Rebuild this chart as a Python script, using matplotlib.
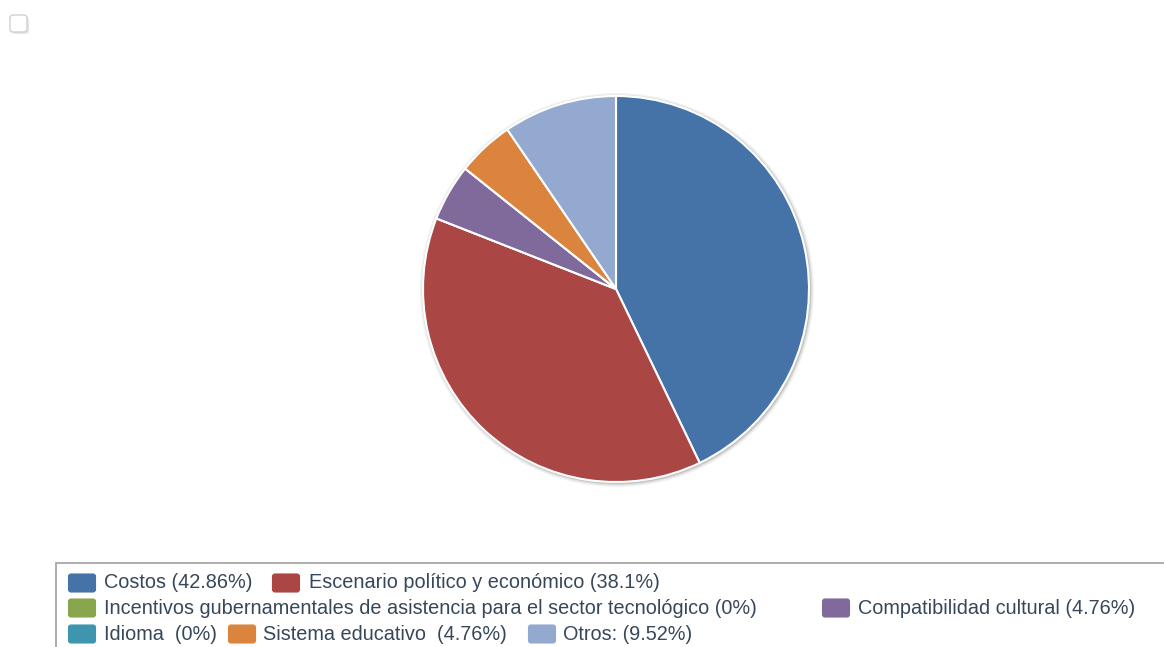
import matplotlib.pyplot as plt
from matplotlib.patches import Rectangle, FancyBboxPatch, Circle

# data
labels = ['Costos', 'Escenario político y económico',
          'Incentivos gubernamentales de asistencia para el sector tecnológico',
          'Compatibilidad cultural', 'Idioma ', 'Sistema educativo ', 'Otros:']
values = [42.86, 38.1, 0, 4.76, 0, 4.76, 9.52]
pct_text = ['42.86%', '38.1%', '0%', '4.76%', '0%', '4.76%', '9.52%']
colors = ['#4572A7', '#AA4643', '#89A54E', '#80699B', '#3D96AE', '#DB843D', '#93A9CF']

W, H = 1164, 647
plt.rcParams['font.family'] = ['Liberation Sans', 'DejaVu Sans']

fig = plt.figure(figsize=(W / 100, H / 100), dpi=100)
ax = fig.add_axes([0, 0, 1, 1])

cx, cy, r = 616, H - 289, 193

# soft halo behind the pie
for k, a in [(4, 0.05), (2.5, 0.08), (1.2, 0.12)]:
    ax.add_patch(Circle((cx + 1, cy - 1), r + k, color='#000000', alpha=a,
                        lw=0, zorder=0))

ax.pie(values, colors=colors, startangle=90, counterclock=False,
       center=(cx, cy), radius=r, frame=True,
       wedgeprops=dict(edgecolor='white', linewidth=1.5))

ax.set_xlim(0, W)
ax.set_ylim(0, H)
ax.set_aspect('auto')
ax.axis('off')

# legend box (runs off the right and bottom edge)
ax.add_patch(Rectangle((55.5, -20), 1200, H - 563 + 20, facecolor='white',
                       edgecolor='#a0a0a0', linewidth=1.2, zorder=1))

# legend items: (row y, swatch x, text x)
layout = [(583, 68, 104), (583, 272, 309), (608, 68, 104), (608, 822, 858),
          (634, 68, 104), (634, 228, 263), (634, 528, 563)]
for (y, sx, tx), lab, pct, col in zip(layout, labels, pct_text, colors):
    ax.add_patch(FancyBboxPatch((sx + 0.5, H - y - 9), 27, 18,
                                boxstyle='round,pad=0,rounding_size=2.5',
                                facecolor=col, edgecolor=col, lw=0.8, zorder=2))
    ax.text(tx, H - y, f'{lab} ({pct})', fontsize=14.3, color='#37475a',
            va='center', ha='left', zorder=3)

# small checkbox at top-left corner (with a light shadow)
ax.add_patch(FancyBboxPatch((12, H - 34), 17, 17,
                            boxstyle='round,pad=0,rounding_size=3',
                            facecolor='#d8d8d8', edgecolor='none', alpha=0.6))
ax.add_patch(FancyBboxPatch((10, H - 32), 17, 17,
                            boxstyle='round,pad=0,rounding_size=3',
                            facecolor='white', edgecolor='#d0d0d0', lw=1.0))

fig.savefig('out.png', dpi=100)
